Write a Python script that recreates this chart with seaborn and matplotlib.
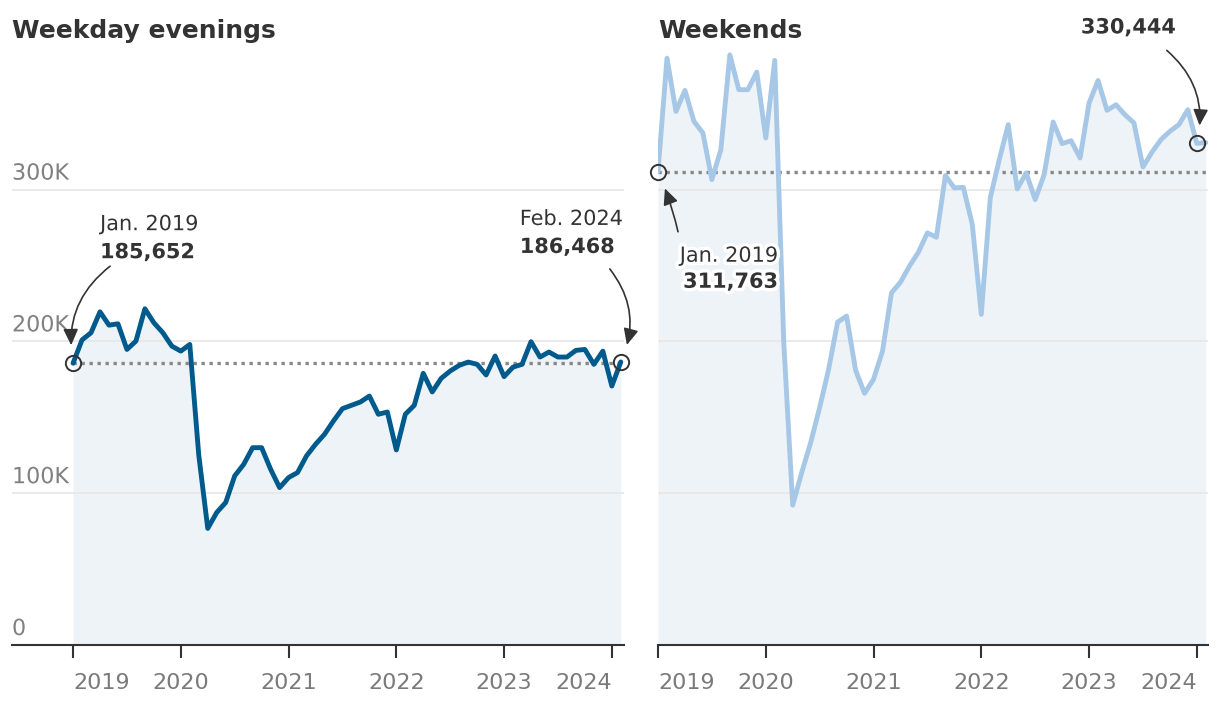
import numpy as np
import pandas as pd
import matplotlib
matplotlib.use("Agg")
import matplotlib.pyplot as plt
import matplotlib.patheffects as pe
import seaborn as sns

# ---------------- data ----------------
years = ["2019", "2020", "2021", "2022", "2023", "2024"]
months = list(range(62))  # Jan 2019 .. Feb 2024

weekday_evenings = [185652, 201000, 205700, 219500, 210700, 211600, 194700, 200200, 221500, 212300,
                    205700, 196900, 193600, 198000, 125000, 76800, 87300, 93900, 111400, 119000,
                    130000, 130000, 115800, 103700, 110300, 113600, 124600, 132200, 138800, 147600,
                    155700, 157900, 160100, 164000, 152000, 153500, 128500, 152000, 157900, 179000,
                    166700, 175700, 180500, 184200, 186400, 184900, 177900, 190400, 176800, 183100,
                    184900, 199800, 189700, 193000, 189700, 189700, 194100, 194700, 184900, 193600,
                    170600, 186468]

weekends = [311763, 386600, 351500, 365400, 345000, 337300, 306600, 326300, 388800, 365800,
            365800, 377400, 334000, 385100, 200000, 92100, 113600, 133300, 156400, 181600,
            212700, 216700, 181100, 165800, 175000, 193600, 232000, 239000, 249600, 258800,
            271500, 268600, 309200, 301100, 301500, 277000, 217800, 294500, 319700, 342800,
            300400, 311000, 293400, 309900, 344500, 330300, 332200, 320800, 357000, 371900,
            352200, 355900, 349300, 343900, 314900, 324600, 332900, 338400, 342800, 352600,
            330444, 331000]

y_ticks = [0, 100000, 200000, 300000]
y_tick_labels = ["0", "100K", "200K", "300K"]

titles = ["Weekday evenings", "Weekends"]

# ---------------- style ----------------
sns.set_style("white")
plt.rcParams["font.family"] = ["DejaVu Sans"]

W, H = 1220, 706
fig = plt.figure(figsize=(W / 100, H / 100), dpi=100)

DARK = "#333333"
FILL = "#eef3f8"
GRID = "#e6e6e6"
DOT = "#888888"
TICKC = "#7a7a7a"

ax_l = fig.add_axes([12 / W, 61 / H, 611.5 / W, 599.6 / H])
ax_r = fig.add_axes([658 / W, 61 / H, 550.5 / W, 599.6 / H])

df = pd.DataFrame({"month": months, "weekday": weekday_evenings, "weekend": weekends})


def base(ax, col, color, xlim):
    ax.set_xlim(*xlim)
    ax.set_ylim(0, 395000)
    ax.fill_between(df["month"], 0, df[col], color=FILL, lw=0, zorder=1)
    for v in y_ticks[1:]:
        ax.axhline(v, color=GRID, lw=1.2, zorder=1.5)
    ax.axhline(df[col].iloc[0], xmin=(0 - xlim[0]) / (xlim[1] - xlim[0]), xmax=1,
               color=DOT, lw=2.4, linestyle=(0, (1, 1.4)), dash_capstyle="butt", zorder=2)
    sns.lineplot(data=df, x="month", y=col, ax=ax, color=color, linewidth=3.5, zorder=3)
    ax.set_xlabel("")
    ax.set_ylabel("")
    ax.set_yticks([])
    ax.set_xticks([0, 12, 24, 36, 48, 60])
    ax.set_xticklabels(years)
    ax.tick_params(axis="x", length=9, width=1.5, color=DARK, pad=11,
                   labelsize=16, labelcolor=TICKC, direction="out", bottom=True)
    labs = ax.get_xticklabels()
    labs[0].set_ha("left")
    labs[-1].set_ha("right")
    for s in ["top", "left", "right"]:
        ax.spines[s].set_visible(False)
    ax.spines["bottom"].set_color(DARK)
    ax.spines["bottom"].set_linewidth(1.5)
    ax.spines["bottom"].set_zorder(4)
    ax.set_facecolor("none")


base(ax_l, "weekday", "#005a8c", (-6.8, 61.3))
base(ax_r, "weekend", "#a6c8e6", (0, 61.3))

# y tick labels (left panel, drawn above grid lines)
for v, lab in zip(y_ticks, y_tick_labels):
    ax_l.annotate(lab, xy=(0, v), xycoords=ax_l.get_yaxis_transform(),
                  xytext=(0, 10), textcoords="offset pixels", ha="left", va="baseline",
                  fontsize=16, color="#808080", zorder=6,
                  path_effects=[pe.withStroke(linewidth=4, foreground="white")])

# titles
fig.text(12 / W, 1 - 38 / H, titles[0], fontsize=18, fontweight="bold", color=DARK, va="baseline")
fig.text(658 / W, 1 - 38 / H, titles[1], fontsize=18, fontweight="bold", color=DARK, va="baseline")

# circles
def circle(ax, m, v):
    ax.plot([m], [v], marker="o", ms=11, mfc="none", mec=DARK, mew=1.4, zorder=5, clip_on=False)

circle(ax_l, 0, weekday_evenings[0])
circle(ax_l, 61, weekday_evenings[61])
circle(ax_r, 0, weekends[0])
circle(ax_r, 60, weekends[60])

stroke = [pe.withStroke(linewidth=5, foreground="white")]


def label(ax, m, v, lines, dx, dys, ha, arrow_start, rad):
    for (txt, bold), dy in zip(lines, dys):
        ax.annotate(txt, xy=(m, v), xytext=(dx, dy), textcoords="offset pixels",
                    ha=ha, va="baseline", fontsize=15, color=DARK,
                    fontweight="bold" if bold else "normal", zorder=7, path_effects=stroke)
    ax.annotate("", xy=(m, v), xytext=arrow_start, textcoords="offset pixels",
                arrowprops=dict(arrowstyle="-|>,head_length=0.65,head_width=0.3",
                                mutation_scale=15, color=DARK, lw=1.2,
                                shrinkA=0, shrinkB=13,
                                connectionstyle=f"arc3,rad={rad}"), zorder=7)


def fmt(v):
    return f"{v:,}"

label(ax_l, 0, weekday_evenings[0], [("Jan. 2019", False), (fmt(weekday_evenings[0]), True)],
      27, [133, 105], "left", (37, 97), 0.3)
label(ax_l, 61, weekday_evenings[61], [("Feb. 2024", False), (fmt(weekday_evenings[61]), True)],
      -101, [137, 109], "left", (-11, 93), -0.3)
label(ax_r, 0, weekends[0], [("Jan. 2019", False), (fmt(weekends[0]), True)],
      120, [-90, -116], "right", (20, -60), 0.05)
label(ax_r, 60, weekends[60], [(fmt(weekends[60]), True)],
      -21, [110], "right", (-30, 93), -0.3)

fig.savefig("out.png", dpi=100)
